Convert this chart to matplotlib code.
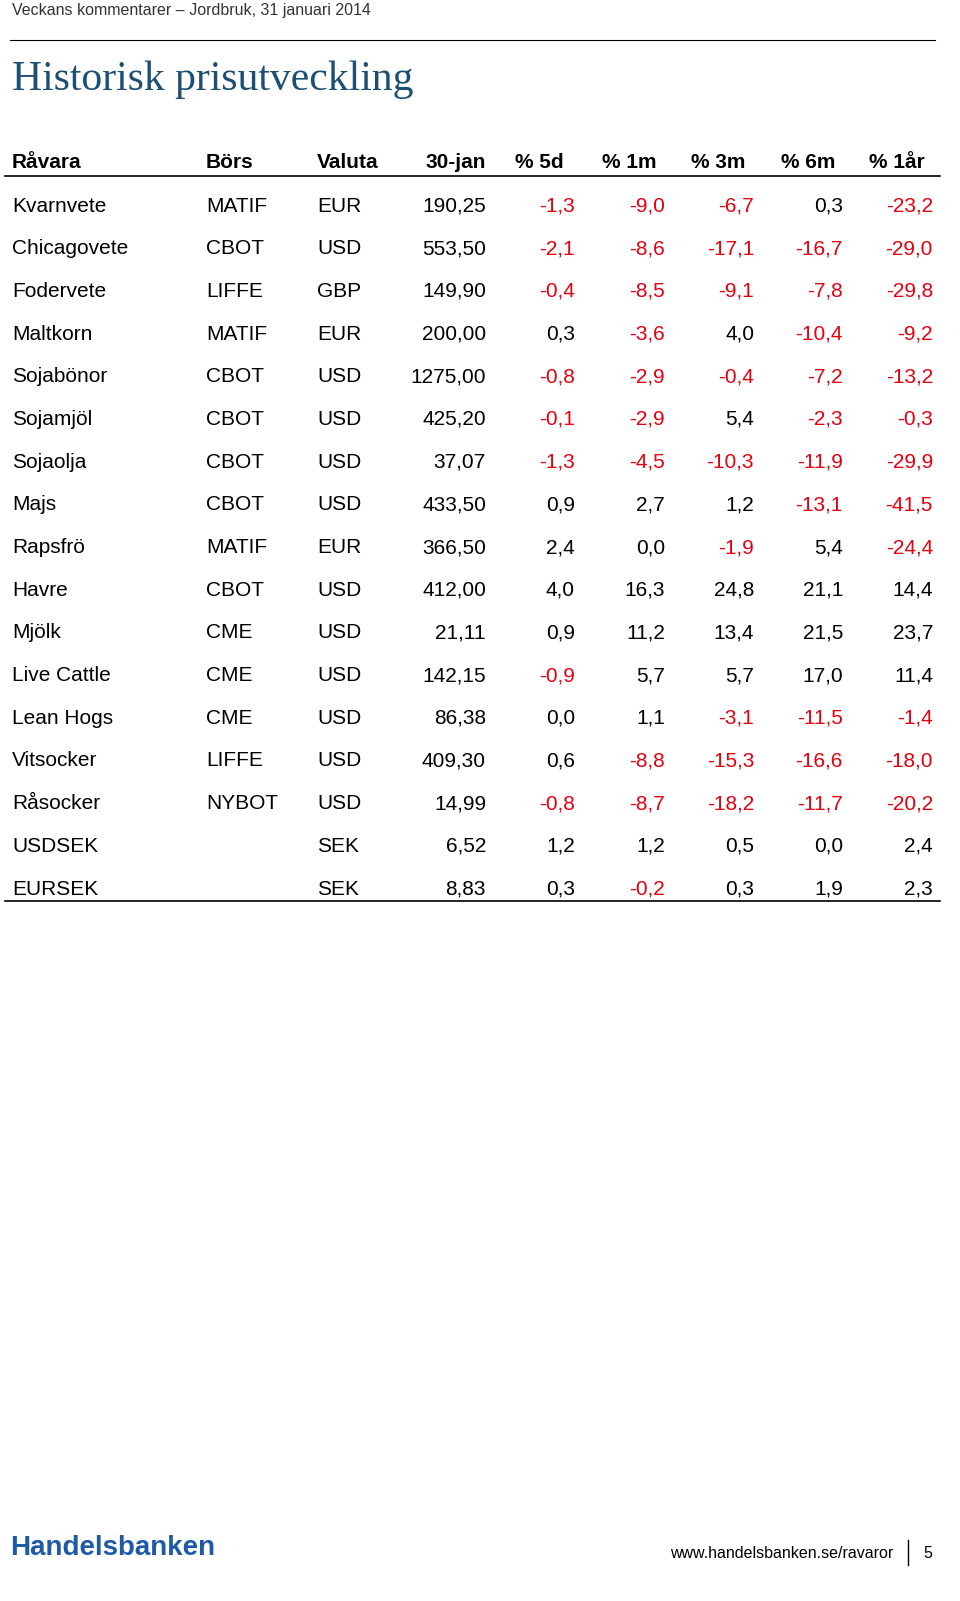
import matplotlib
matplotlib.use("Agg")
import matplotlib.pyplot as plt
from matplotlib.lines import Line2D

commodities = ["Kvarnvete","Chicagovete","Fodervete","Maltkorn","Sojabönor","Sojamjöl","Sojaolja","Majs",
               "Rapsfrö","Havre","Mjölk","Live Cattle","Lean Hogs","Vitsocker","Råsocker","USDSEK","EURSEK"]
exchanges = ["MATIF","CBOT","LIFFE","MATIF","CBOT","CBOT","CBOT","CBOT","MATIF","CBOT","CME","CME","CME",
             "LIFFE","NYBOT","",""]
currencies = ["EUR","USD","GBP","EUR","USD","USD","USD","USD","EUR","USD","USD","USD","USD","USD","USD","SEK","SEK"]
price_30jan = [190.25,553.50,149.90,200.00,1275.00,425.20,37.07,433.50,366.50,412.00,21.11,142.15,86.38,409.30,14.99,6.52,8.83]
pct_5d = [-1.3,-2.1,-0.4,0.3,-0.8,-0.1,-1.3,0.9,2.4,4.0,0.9,-0.9,0.0,0.6,-0.8,1.2,0.3]
pct_1m = [-9.0,-8.6,-8.5,-3.6,-2.9,-2.9,-4.5,2.7,0.0,16.3,11.2,5.7,1.1,-8.8,-8.7,1.2,-0.2]
pct_3m = [-6.7,-17.1,-9.1,4.0,-0.4,5.4,-10.3,1.2,-1.9,24.8,13.4,5.7,-3.1,-15.3,-18.2,0.5,0.3]
pct_6m = [0.3,-16.7,-7.8,-10.4,-7.2,-2.3,-11.9,-13.1,5.4,21.1,21.5,17.0,-11.5,-16.6,-11.7,0.0,1.9]
pct_1y = [-23.2,-29.0,-29.8,-9.2,-13.2,-0.3,-29.9,-41.5,-24.4,14.4,23.7,11.4,-1.4,-18.0,-20.2,2.4,2.3]
headers = ["Råvara","Börs","Valuta","30-jan","% 5d","% 1m","% 3m","% 6m","% 1år"]

W, H = 960, 1601
fig = plt.figure(figsize=(9.6, 16.01), dpi=100)
ax = fig.add_axes([0, 0, 1, 1])
ax.set_xlim(0, W); ax.set_ylim(H, 0); ax.axis("off")
FONT = "Liberation Sans"
RED = "#e4000f"

def fmt(v, d):
    return f"{v:.{d}f}".replace(".", ",")

ax.text(12, 10, "Veckans kommentarer – Jordbruk, 31 januari 2014", fontsize=11.5, color="#333333",
        family=FONT, va="center")
ax.add_line(Line2D([10, 935], [40, 40], color="black", lw=0.8))
ax.text(12, 80, "Historisk prisutveckling", fontsize=30, color="#1c4f73", family="Liberation Serif",
        va="center")

fs = 15
hx = [(12,"left"),(206,"left"),(317,"left"),(486,"right"),(564,"right"),(656,"right"),(745,"right"),(835,"right"),(925,"right")]
for (x, ha), h in zip(hx, headers):
    ax.text(x, 162, h, fontsize=fs, fontweight="bold", family=FONT, ha=ha, va="center")
ax.add_line(Line2D([5, 940], [176, 176], color="black", lw=1.2))

dx = [486, 575, 665, 754, 843, 933]
for i in range(len(commodities)):
    y = 206 + i * (889 - 206) / 16
    ax.text(12, y, commodities[i], fontsize=fs, family=FONT, va="center")
    ax.text(206, y, exchanges[i], fontsize=fs, family=FONT, va="center")
    ax.text(317, y, currencies[i], fontsize=fs, family=FONT, va="center")
    ax.text(dx[0], y, fmt(price_30jan[i], 2), fontsize=fs, family=FONT, va="center", ha="right")
    for x, col in zip(dx[1:], [pct_5d, pct_1m, pct_3m, pct_6m, pct_1y]):
        v = col[i]
        ax.text(x, y, fmt(v, 1), fontsize=fs, family=FONT, va="center", ha="right",
                color=RED if v < 0 else "black")
ax.add_line(Line2D([5, 940], [901, 901], color="black", lw=1.2))

ax.text(10, 1548, "Handelsbanken", fontsize=20, fontweight="bold", color="#1f5aa6", family=FONT, va="center")
ax.text(893, 1553, "www.handelsbanken.se/ravaror", fontsize=11.5, family=FONT, va="center", ha="right")
ax.add_line(Line2D([908, 908], [1540, 1565], color="black", lw=1))
ax.text(928, 1553, "5", fontsize=11.5, family=FONT, va="center", ha="center")

fig.savefig("out.png", dpi=100, facecolor="white")
